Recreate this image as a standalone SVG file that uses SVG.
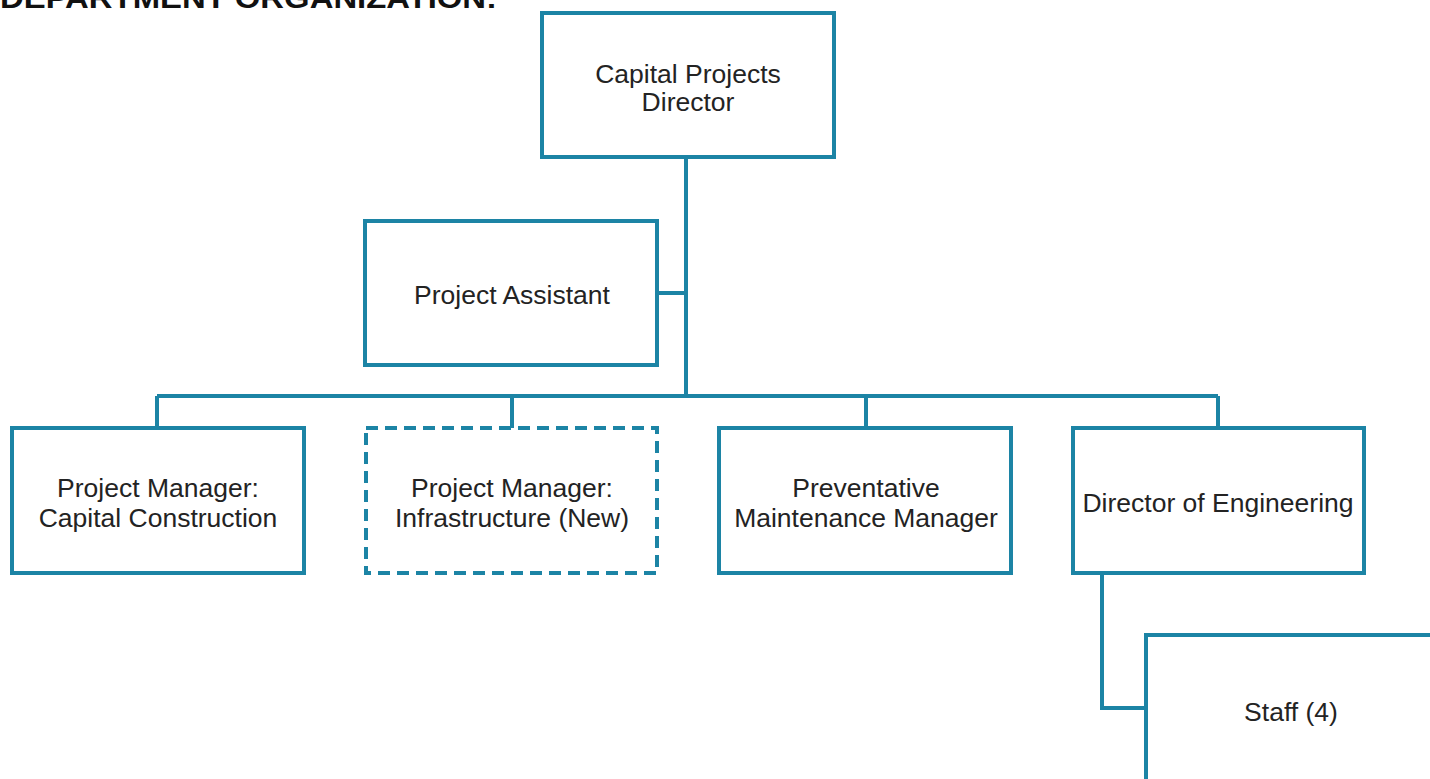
<svg xmlns="http://www.w3.org/2000/svg" width="1430" height="779" viewBox="0 0 1430 779">
<style>
.box{fill:#ffffff;stroke:#1c84a5;stroke-width:4}
.dash{stroke-dasharray:12 7}
.conn{fill:none;stroke:#1c84a5;stroke-width:4}
.t{font-family:"Liberation Sans",Arial,sans-serif;font-size:26.5px;fill:#232323;text-anchor:middle}
.title{font-family:"Liberation Sans",Arial,sans-serif;font-size:30px;font-weight:bold;fill:#111}
</style>
<rect width="1430" height="779" fill="#ffffff"/>
<text class="title" x="0" y="8" textLength="497" lengthAdjust="spacingAndGlyphs">DEPARTMENT ORGANIZATION:</text>
<g id="connectors">
<path class="conn" d="M686 157V396"/>
<path class="conn" d="M657 293H686"/>
<path class="conn" d="M157 396H1218"/>
<path class="conn" d="M157 396V428M512 396V428M866 396V428M1218 396V428"/>
<path class="conn" d="M1102 573V708H1146"/>
</g>
<g id="capital-projects-director">
<rect class="box" x="542" y="13" width="292" height="144"/>
<text class="t" x="688" y="83">Capital Projects</text>
<text class="t" x="688" y="111">Director</text>
</g>
<g id="project-assistant">
<rect class="box" x="365" y="221" width="292" height="144"/>
<text class="t" x="512" y="304">Project Assistant</text>
</g>
<g id="pm-capital-construction">
<rect class="box" x="12" y="428" width="292" height="145"/>
<text class="t" x="158" y="497">Project Manager:</text>
<text class="t" x="158" y="527">Capital Construction</text>
</g>
<g id="pm-infrastructure">
<rect class="box dash" x="366" y="428" width="291" height="145"/>
<text class="t" x="512" y="497">Project Manager:</text>
<text class="t" x="512" y="527">Infrastructure (New)</text>
</g>
<g id="preventative-maintenance-manager">
<rect class="box" x="719" y="428" width="292" height="145"/>
<text class="t" x="866" y="497">Preventative</text>
<text class="t" x="866" y="527">Maintenance Manager</text>
</g>
<g id="director-of-engineering">
<rect class="box" x="1073" y="428" width="291" height="145"/>
<text class="t" x="1218" y="512">Director of Engineering</text>
</g>
<g id="staff">
<rect class="box" x="1146" y="635" width="300" height="160"/>
<text class="t" x="1291" y="721">Staff (4)</text>
</g>
</svg>
